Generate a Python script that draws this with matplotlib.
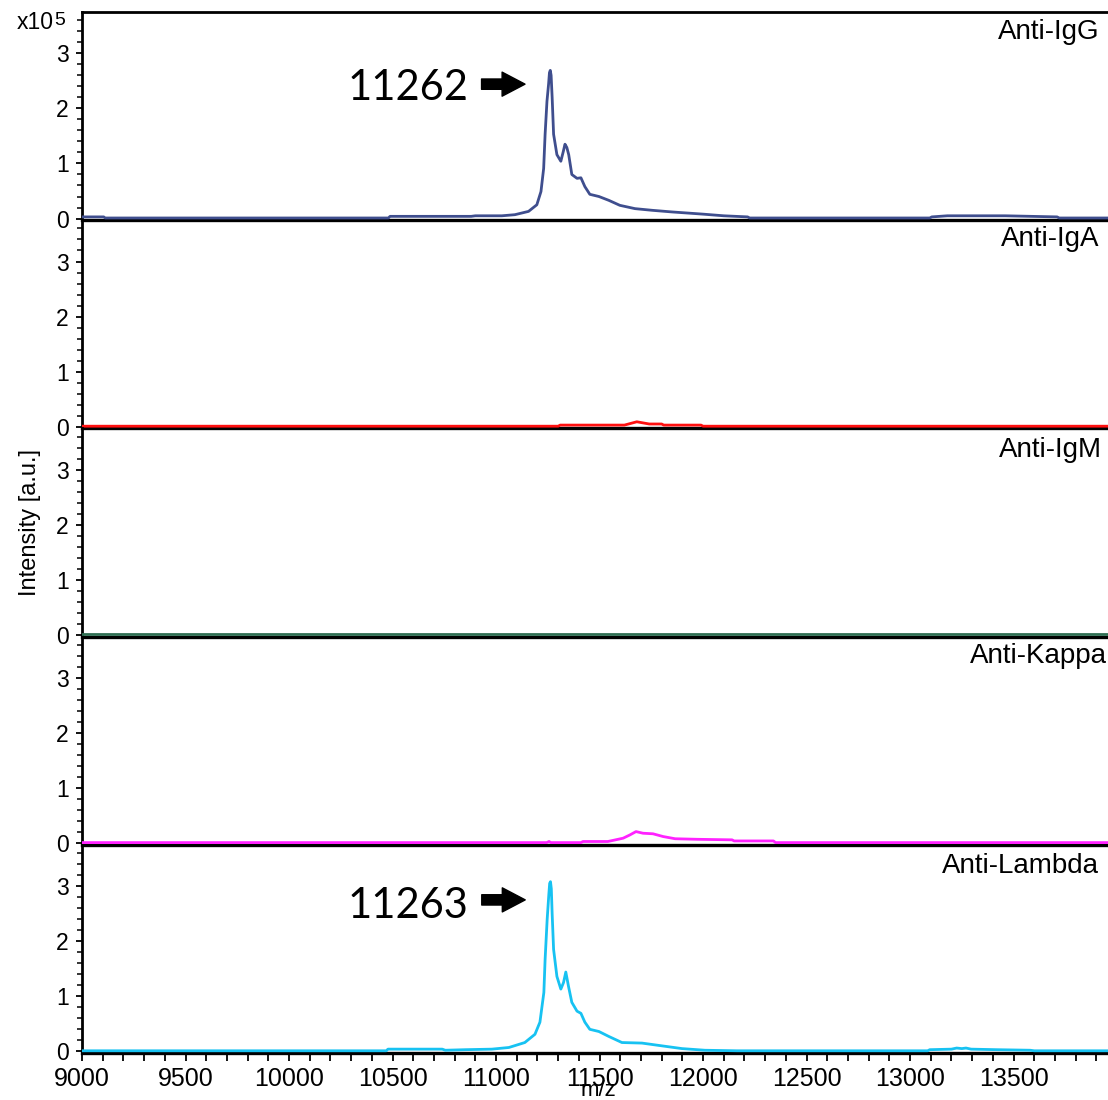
import matplotlib
matplotlib.use("Agg")
import matplotlib.pyplot as plt
from matplotlib.ticker import MultipleLocator

plt.rcParams['font.family'] = ['Liberation Sans', 'DejaVu Sans']

# ---- spectra (m/z, intensity in units of 1e5) ----
panel_names = ["Anti-IgG", "Anti-IgA", "Anti-IgM", "Anti-Kappa", "Anti-Lambda"]
panel_colors = ["#3f4e8e", "#ff1010", "#2e6e52", "#ff22ff", "#17c2f2"]

igg_mz = [9000, 9105, 9112, 10480, 10488, 10880, 10900, 11028, 11091, 11157,
          11197, 11217, 11230, 11237, 11246, 11254, 11258, 11262, 11266, 11271,
          11278, 11294, 11313, 11325, 11333, 11342, 11351, 11366, 11391, 11410,
          11429, 11453, 11497, 11545, 11598, 11671, 11753, 11850, 12000, 12100,
          12215, 12225, 13095, 13105, 13180, 13460, 13710, 13720, 13956]
igg_int = [0.03, 0.03, 0.01, 0.01, 0.04, 0.04, 0.05, 0.05, 0.07, 0.13,
           0.25, 0.49, 0.91, 1.53, 2.13, 2.45, 2.65, 2.69, 2.60, 2.20,
           1.53, 1.16, 1.04, 1.22, 1.35, 1.29, 1.16, 0.80, 0.73, 0.74,
           0.58, 0.44, 0.40, 0.33, 0.24, 0.18, 0.15, 0.12, 0.08, 0.05,
           0.03, 0.01, 0.01, 0.03, 0.05, 0.05, 0.03, 0.01, 0.01]

iga_mz = [9000, 11300, 11310, 11620, 11650, 11680, 11710, 11740, 11800, 11810,
          11990, 12000, 13956]
iga_int = [0.01, 0.01, 0.03, 0.03, 0.06, 0.09, 0.07, 0.05, 0.05, 0.03,
           0.03, 0.01, 0.01]

igm_mz = [9000, 11000, 12000, 13956]
igm_int = [0.01, 0.01, 0.01, 0.01]

kappa_mz = [9000, 11245, 11256, 11265, 11410, 11420, 11540, 11565, 11614, 11647,
            11676, 11710, 11758, 11807, 11865, 11971, 12140, 12150, 12340, 12350,
            13956]
kappa_int = [0.01, 0.01, 0.03, 0.01, 0.01, 0.03, 0.03, 0.05, 0.09, 0.15,
             0.21, 0.18, 0.17, 0.12, 0.08, 0.07, 0.06, 0.04, 0.04, 0.01,
             0.01]

lambda_mz = [9000, 10470, 10478, 10740, 10755, 10850, 10980, 11062, 11139, 11188,
             11212, 11231, 11237, 11247, 11255, 11259, 11263, 11267, 11271, 11278,
             11294, 11313, 11326, 11337, 11350, 11366, 11391, 11410, 11429, 11453,
             11497, 11545, 11608, 11705, 11801, 11898, 12009, 12164, 13085, 13095,
             13200, 13225, 13250, 13270, 13295, 13420, 13580, 13600, 13956]
lambda_int = [0.01, 0.01, 0.04, 0.04, 0.02, 0.03, 0.04, 0.07, 0.16, 0.31,
              0.53, 1.07, 1.67, 2.40, 2.85, 3.05, 3.08, 2.95, 2.50, 1.85,
              1.36, 1.13, 1.25, 1.44, 1.18, 0.89, 0.73, 0.69, 0.53, 0.40,
              0.36, 0.27, 0.16, 0.15, 0.10, 0.05, 0.02, 0.01, 0.01, 0.03,
              0.04, 0.06, 0.05, 0.06, 0.04, 0.03, 0.02, 0.01, 0.01]

spectra = [(igg_mz, igg_int), (iga_mz, iga_int), (igm_mz, igm_int),
           (kappa_mz, kappa_int), (lambda_mz, lambda_int)]

# panels whose main peak is annotated: (panel index, label baseline y, arrow y)
peak_notes = [(0, 2.15, 2.44), (4, 2.42, 2.75)]

x_ticks = [9000, 9500, 10000, 10500, 11000, 11500, 12000, 12500, 13000, 13500]
y_ticks = [0, 1, 2, 3]

# ---- figure ----
fig = plt.figure(figsize=(11.08, 11.0), dpi=100)
gs = fig.add_gridspec(5, 1, left=82 / 1108, right=1.0,
                      top=1 - 12 / 1100, bottom=1 - 1053 / 1100, hspace=0)
axes = gs.subplots(sharex=True)

label_x = [0.992, 0.992, 0.994, 0.999, 0.991]
label_y = [0.968, 0.97, 0.958, 0.97, 0.962]

for i, ax in enumerate(axes):
    mz, inten = spectra[i]
    ax.patch.set_visible(False)
    ax.plot(mz, inten, color=panel_colors[i], lw=2.0, solid_joinstyle='round',
            zorder=3)
    ax.set_xlim(9000, 13956)
    ax.set_ylim(-0.03, 3.75)

    ax.spines['right'].set_visible(False)
    ax.spines['top'].set_visible(i == 0)
    ax.spines['top'].set_linewidth(2.0)
    ax.spines['left'].set_linewidth(2.0)
    ax.spines['bottom'].set_linewidth(2.4)

    ax.yaxis.set_major_locator(plt.FixedLocator(y_ticks))
    ax.yaxis.set_minor_locator(MultipleLocator(0.2))
    ax.tick_params(axis='y', which='major', direction='out', length=4.5,
                   width=1.3, labelsize=16.5, pad=5)
    ax.tick_params(axis='y', which='minor', direction='out', length=3.5,
                   width=1.1)

    if i < len(axes) - 1:
        ax.tick_params(axis='x', which='both', bottom=False, labelbottom=False)
    else:
        ax.xaxis.set_major_locator(plt.FixedLocator(x_ticks))
        ax.xaxis.set_minor_locator(MultipleLocator(100))
        ax.tick_params(axis='x', which='both', direction='out', length=6,
                       width=1.3, labelsize=18, pad=4)

    ax.text(label_x[i], label_y[i], panel_names[i], transform=ax.transAxes,
            ha='right', va='top', fontsize=20)

# peak labels with arrows
for idx, text_y, arrow_y in peak_notes:
    ax = axes[idx]
    mz, inten = spectra[idx]
    k = inten.index(max(inten))
    peak_mz = mz[k]
    ax.annotate('', xy=(peak_mz - 122, arrow_y), xytext=(peak_mz - 332, arrow_y),
                arrowprops=dict(arrowstyle='simple,head_length=1.0,head_width=1.05,tail_width=0.45',
                                mutation_scale=16.5, color='black',
                                shrinkA=0, shrinkB=0))
    ax.text(peak_mz - 397, text_y, str(peak_mz), family=['Lato', 'DejaVu Sans'],
            fontsize=30, ha='right', va='baseline')

# axis titles and scale factor
fig.text(30 / 1108, 1 - 522 / 1100, 'Intensity [a.u.]', rotation=90,
         ha='center', va='center', fontsize=17)
fig.text(598 / 1108, 1 - 1080 / 1100, 'm/z', ha='center', va='top', fontsize=16)
fig.text(54 / 1108, 1 - 29 / 1100, 'x10', ha='right', va='baseline', fontsize=16.5)
fig.text(54 / 1108, 1 - 25 / 1100, '5', ha='left', va='baseline', fontsize=14)

fig.savefig('out.png', dpi=100)
